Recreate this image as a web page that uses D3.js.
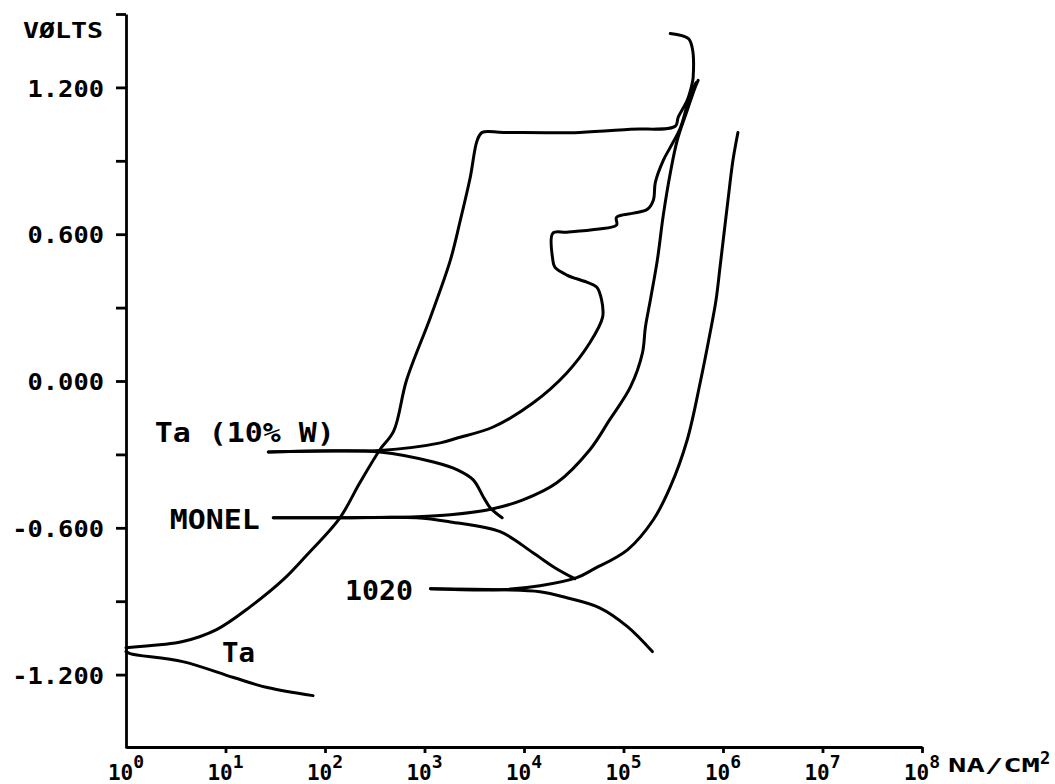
<!DOCTYPE html>
<html>
<head>
<meta charset="utf-8">
<script src="https://cdn.jsdelivr.net/npm/d3@7"></script>
<style>
  body { margin: 0; background: #fff; }
  text { font-family: "DejaVu Sans Mono", monospace; fill: #000; font-weight: bold; }
</style>
</head>
<body>
<div id="chart"></div>
<script>
// Each point: [log10 current density (NA/CM2), potential in volts]
const taAnodic = [
  [0.00, -1.090], [0.34, -1.078], [0.57, -1.065], [0.91, -1.016], [1.25, -0.922],
  [1.58, -0.812], [1.82, -0.710], [2.15, -0.559], [2.35, -0.416], [2.55, -0.282],
  [2.69, -0.205], [2.82, 0.004], [3.06, 0.261], [3.26, 0.494], [3.36, 0.657],
  [3.46, 0.833], [3.53, 0.984], [3.58, 1.016], [3.79, 1.016], [4.56, 1.016],
  [5.07, 1.029], [5.52, 1.041], [5.55, 1.078], [5.64, 1.147], [5.69, 1.216],
  [5.70, 1.241], [5.69, 1.363], [5.65, 1.400], [5.47, 1.420]
];
const taCathodic = [
  [0.00, -1.106], [0.04, -1.114], [0.57, -1.147], [1.08, -1.212], [1.42, -1.253], [1.88, -1.286]
];
const taWAnodic = [
  [1.43, -0.290], [1.95, -0.286], [2.55, -0.284], [3.16, -0.253], [3.33, -0.233],
  [3.69, -0.188], [4.09, -0.090], [4.43, 0.033], [4.66, 0.155], [4.79, 0.261],
  [4.78, 0.331], [4.73, 0.384], [4.63, 0.404], [4.43, 0.433], [4.31, 0.465],
  [4.29, 0.494], [4.29, 0.604], [4.43, 0.608], [4.73, 0.620], [4.93, 0.637],
  [4.93, 0.669], [5.10, 0.686], [5.24, 0.702], [5.30, 0.739], [5.32, 0.812],
  [5.40, 0.902], [5.47, 0.955], [5.57, 1.033], [5.64, 1.127], [5.69, 1.188], [5.73, 1.220]
];
const taWCathodic = [
  [1.43, -0.290], [1.95, -0.286], [2.55, -0.290], [3.09, -0.331], [3.33, -0.363],
  [3.49, -0.404], [3.59, -0.473], [3.66, -0.518], [3.78, -0.559]
];
const monelAnodic = [
  [1.48, -0.559], [2.15, -0.559], [2.92, -0.555], [3.26, -0.547], [3.69, -0.522],
  [3.99, -0.486], [4.33, -0.416], [4.66, -0.282], [4.86, -0.159], [5.07, -0.024],
  [5.19, 0.114], [5.22, 0.220], [5.27, 0.331], [5.34, 0.494], [5.40, 0.678],
  [5.47, 0.849], [5.54, 0.984], [5.64, 1.106], [5.72, 1.200], [5.75, 1.229]
];
const monelCathodic = [
  [1.48, -0.559], [2.15, -0.559], [2.92, -0.559], [3.26, -0.576], [3.76, -0.616],
  [4.09, -0.702], [4.31, -0.763], [4.51, -0.808]
];
const steelAnodic = [
  [3.06, -0.849], [3.76, -0.853], [4.16, -0.837], [4.53, -0.804], [4.69, -0.771],
  [5.04, -0.690], [5.30, -0.567], [5.47, -0.433], [5.64, -0.241], [5.77, -0.008],
  [5.87, 0.196], [5.93, 0.331], [5.97, 0.465], [6.05, 0.739], [6.10, 0.902], [6.15, 1.016]
];
const steelCathodic = [
  [3.06, -0.849], [3.76, -0.853], [4.16, -0.861], [4.43, -0.886], [4.76, -0.927],
  [5.04, -1.004], [5.29, -1.106]
];

const curves = [taAnodic, taCathodic, taWAnodic, taWCathodic,
  monelAnodic, monelCathodic, steelAnodic, steelCathodic];

// curve labels: text, [log10 current, volts] of the left end of the baseline
const curveLabels = [
  { text: "Ta (10% W)", at: [0.29, -0.249], width: 180 },
  { text: "MONEL", at: [0.44, -0.605], width: 90 },
  { text: "1020", at: [2.20, -0.895], width: 68 },
  { text: "Ta", at: [0.965, -1.148], width: 33 }
];

const xTickExponents = [1, 2, 3, 4, 5, 6, 7, 8];
const xLabelExponents = [0, 1, 2, 3, 4, 5, 6, 7, 8];
const yTicks = [-1.2, -0.9, -0.6, -0.3, 0, 0.3, 0.6, 0.9, 1.2, 1.5];
const yLabelled = [-1.2, -0.6, 0, 0.6, 1.2];
const yTitle = "VØLTS";
const xUnit = "NA/CM";

const width = 1055;
const height = 784;

const svg = d3.select("#chart").append("svg")
  .attr("width", width)
  .attr("height", height);

const x = d3.scaleLog().domain([1, 1e8]).range([126, 922]);
const y = d3.scaleLinear().domain([-1.5, 1.5]).range([748, 14]);

// axes
const yAxis = svg.append("g")
  .attr("transform", `translate(${x(1)},0)`)
  .call(d3.axisLeft(y)
    .tickValues(yTicks)
    .tickSize(10)
    .tickSizeOuter(0)
    .tickPadding(12)
    .tickFormat((d) => (yLabelled.includes(d) ? d.toFixed(3) : "")));

const xAxis = svg.append("g")
  .attr("transform", `translate(0,${y(-1.5) - 1})`)
  .call(d3.axisBottom(x)
    .tickValues(xTickExponents.map((e) => 10 ** e))
    .tickSize(6)
    .tickSizeOuter(0)
    .tickFormat(""));

svg.selectAll(".domain, .tick line")
  .attr("stroke", "#000")
  .attr("stroke-width", 2.8);

yAxis.selectAll(".tick text")
  .attr("font-family", "DejaVu Sans Mono")
  .attr("font-size", 23)
  .attr("dy", "0.38em")
  .attr("textLength", function (d) { return this.textContent.length * 15.3; })
  .attr("lengthAdjust", "spacingAndGlyphs");

svg.append("text")
  .attr("x", 103)
  .attr("y", 38)
  .attr("text-anchor", "end")
  .attr("font-size", 22)
  .attr("textLength", 80)
  .attr("lengthAdjust", "spacingAndGlyphs")
  .text(yTitle);

// x tick labels 10^n
const xl = svg.append("g");
xLabelExponents.forEach((e) => {
  const t = xl.append("text")
    .attr("x", x(10 ** e))
    .attr("y", 780)
    .attr("text-anchor", "middle")
    .attr("font-size", 21);
  t.append("tspan").text("10");
  t.append("tspan").attr("dy", -12).attr("font-size", 18).text(e);
});

const unit = svg.append("text")
  .attr("x", 948)
  .attr("y", 772)
  .attr("font-size", 19);
unit.append("tspan").text(xUnit)
  .attr("textLength", 92)
  .attr("lengthAdjust", "spacingAndGlyphs");
unit.append("tspan").attr("dy", -8).attr("font-size", 17).text("2");

// curves
const line = d3.line()
  .x((d) => x(10 ** d[0]))
  .y((d) => y(d[1]))
  .curve(d3.curveCatmullRom.alpha(0.5));

svg.append("g")
  .selectAll("path")
  .data(curves)
  .enter()
  .append("path")
  .attr("d", line)
  .attr("fill", "none")
  .attr("stroke", "#000")
  .attr("stroke-width", 3)
  .attr("stroke-linejoin", "round")
  .attr("stroke-linecap", "round");

svg.append("g")
  .selectAll("text")
  .data(curveLabels)
  .enter()
  .append("text")
  .attr("x", (d) => x(10 ** d.at[0]))
  .attr("y", (d) => y(d.at[1]))
  .attr("font-size", 26)
  .attr("textLength", (d) => d.width)
  .attr("lengthAdjust", "spacingAndGlyphs")
  .text((d) => d.text);
</script>
</body>
</html>
